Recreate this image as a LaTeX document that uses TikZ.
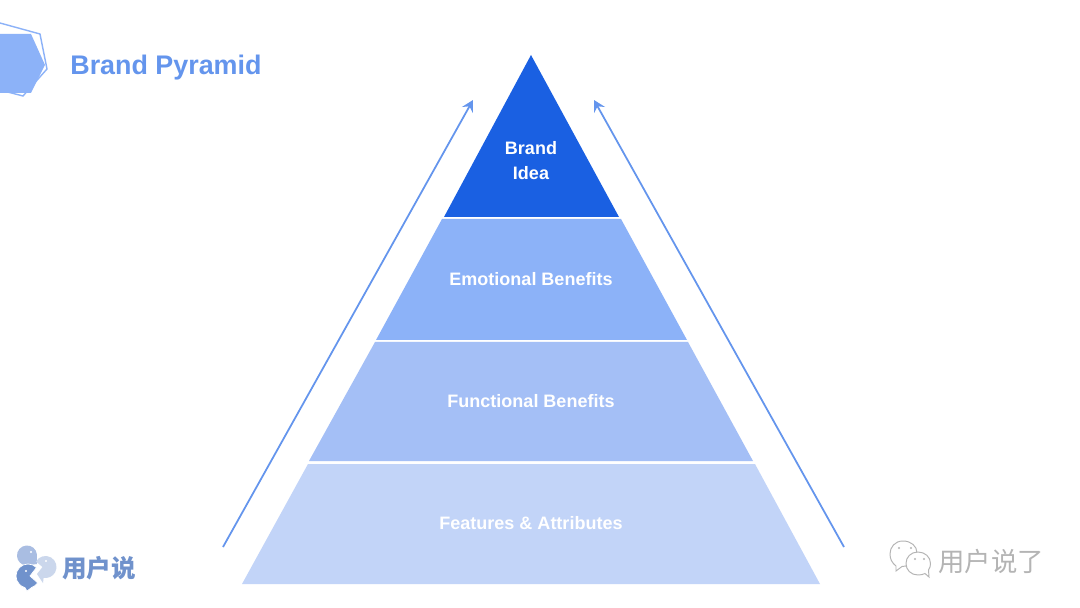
\documentclass[tikz,border=0pt]{standalone}
\usepackage{fontspec}
\setmainfont{Liberation Sans}
\newfontfamily\cjkfont{Noto Sans CJK SC}
\usetikzlibrary{arrows.meta}
\definecolor{ideacolor}{HTML}{1A60E2}
\definecolor{emotioncolor}{HTML}{8CB2F8}
\definecolor{functioncolor}{HTML}{A4BFF6}
\definecolor{featurecolor}{HTML}{C2D4F8}
\definecolor{titlecolor}{HTML}{6495ED}
\definecolor{logodark}{HTML}{7092CC}
\definecolor{logomid}{HTML}{A9BDE2}
\definecolor{logolight}{HTML}{CBD7EC}
\definecolor{markcolor}{HTML}{B4B4B4}
\tikzset{
  bandlabel/.style={text=white, font=\bfseries\fontsize{10.25}{14.7}\selectfont, align=center, inner sep=0pt},
  sidearrow/.style={draw=titlecolor, line width=1pt, -{Stealth[length=6.5pt,width=7pt,inset=2.4pt]}},
  markline/.style={draw=markcolor, line width=0.55pt},
}
\begin{document}
\begin{tikzpicture}[x=0.02cm,y=-0.02cm]
    \useasboundingbox (0,0) rectangle (1080,608);
    \fill[white] (0,0) rectangle (1080,608);

    % pyramid, from the top down
    \fill[ideacolor] (531,55) -- (619,217) -- (444,217) -- cycle;
    \fill[emotioncolor] (442,219) -- (621,219) -- (687,340) -- (376,340) -- cycle;
    \fill[functioncolor] (375,342) -- (688,342) -- (753,461) -- (309,461) -- cycle;
    \fill[featurecolor] (308,464) -- (755,464) -- (820,584) -- (242,584) -- cycle;

    \node[bandlabel] (idea) at (531,160.5) {Brand\\Idea};
    \node[bandlabel] (emotion) at (531,279) {Emotional Benefits};
    \node[bandlabel] (function) at (531,401) {Functional Benefits};
    \node[bandlabel] (feature) at (531,523) {Features \& Attributes};

    % side arrows
    \coordinate (leftfoot) at (223,547);
    \coordinate (lefttip) at (473,100);
    \coordinate (rightfoot) at (844,547);
    \coordinate (righttip) at (594,100);
    \draw[sidearrow] (leftfoot) -- (lefttip);
    \draw[sidearrow] (rightfoot) -- (righttip);

    % header
    \fill[emotioncolor] (0,34) -- (31,34) -- (45,65) -- (31,93) -- (0,93) -- cycle;
    \draw[emotioncolor, line width=0.8pt] (0,23) -- (40,34) -- (47,69) -- (23,96) -- (0,90);
    \node[text=titlecolor, font=\bfseries\fontsize{15.3}{17}\selectfont, anchor=west, inner sep=0pt] (title) at (70,67.5) {Brand Pyramid};

    % logo bottom left
    \fill[logomid] (27,555.5) ++(-5:10) arc[start angle=-5, end angle=-265, radius=10] -- (37,564) -- cycle;
    \fill[logolight] (45.5,567) ++(-150:11) arc[start angle=-150, end angle=100, radius=11] -- (43,583) -- (37,574) -- (42.5,567) -- cycle;
    \fill[logodark, draw=white, line width=0.4pt] (28,576) ++(-45:12) arc[start angle=-45, end angle=-255, radius=12] -- (27,591) -- (32,587.3) arc[start angle=-290, end angle=-325, radius=12] -- (30,576) -- cycle;
    \fill[white] (31,552) circle (1.1) (46,561) circle (1.1) (26,571) circle (1.2);
    \node[text=logodark, font=\cjkfont\bfseries\fontsize{14}{16}\selectfont, anchor=west, inner sep=0pt] (logotext) at (62,568) {用户说};

    % watermark bottom right
    \draw[markline, fill=white] (896,566) -- (896,571) -- (902,566.5) .. controls (912,566) and (917,560) .. (917,553) .. controls (917,546) and (911,541) .. (903,541) .. controls (895,541) and (890,547) .. (890,554) .. controls (890,559) and (892,563) .. (896,566) -- cycle;
    \draw[markline, fill=white] (918,552) .. controls (911,552) and (906,557) .. (906,563.5) .. controls (906,570) and (911,575) .. (918,575) .. controls (921,575) and (923,574.5) .. (925,573.5) -- (929,577) -- (928.5,570) .. controls (930,568) and (930.5,566) .. (930.5,563.5) .. controls (930.5,557) and (925,552) .. (918,552) -- cycle;
    \fill[markcolor] (899,548) circle (1.1) (911,548) circle (1.1) (915,559) circle (1.1) (924,559) circle (1.1);
    \node[text=markcolor, font=\cjkfont\fontsize{15}{17}\selectfont, anchor=west, inner sep=0pt] (marktext) at (938,561) {用户说了};
\end{tikzpicture}
\end{document}
